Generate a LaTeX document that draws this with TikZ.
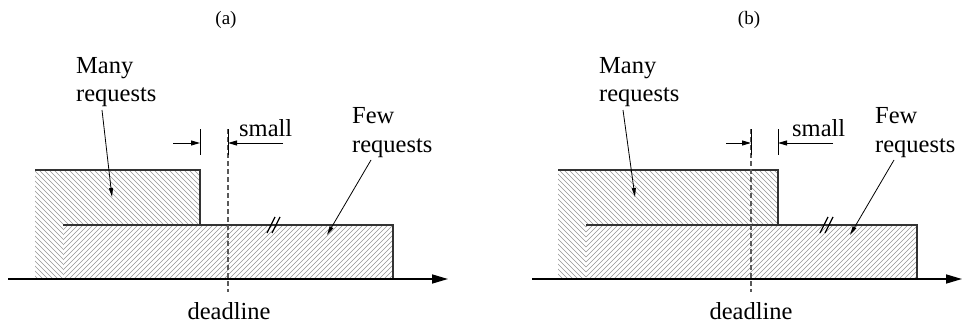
\documentclass[tikz,border=0pt]{standalone}
\usepackage{fontspec}
\setmainfont{Liberation Serif}
\usetikzlibrary{arrows.meta}
\begin{document}
\begin{tikzpicture}[x=1pt,y=-1pt,
  lbl/.style={inner sep=0pt,font=\fontsize{24.5}{29}\selectfont},
  panellabel/.style={inner sep=0pt,font=\fontsize{19}{22}\selectfont},
  outline/.style={line width=1.1pt,draw=black!80},
  hatch/.style={line width=0.55pt,draw=black!42},
  axis/.style={line width=1.6pt,-{Triangle[length=16pt,width=9pt]}},
  ptr/.style={line width=0.8pt,-{Triangle[length=9pt,width=4pt]}},
  dim/.style={line width=0.9pt,-{Triangle[length=9pt,width=5pt]}},
  tickmark/.style={line width=0.9pt},
  deadline/.style={line width=1.2pt,draw=black!65,dash pattern=on 5pt off 3pt},
  brk/.style={line width=1.3pt}
]
\useasboundingbox (0,0) rectangle (962,329);

% ---------- panel (a) ----------
% many requests: hatched block
\begin{scope}
  \clip (35,170) rectangle (200,279);
  \foreach \k in {-85,-80,...,200} \draw[hatch] (\k,166) -- ++(118,118);
\end{scope}
% few requests: hatched block
\fill[white] (63,225) rectangle (393,279);
\begin{scope}
  \clip (63,225) rectangle (393,279);
  \foreach \k in {0,5,...,400} \draw[hatch] (\k,283) -- ++(62,-62);
\end{scope}
\draw[outline] (35,170) -- (200,170) -- (200,225);
\draw[outline] (63,225) -- (393,225) -- (393,279);
\draw[axis] (8,279) -- (448,279);
\draw[deadline] (228,129) -- (228,292);
\draw[tickmark] (200,129) -- (200,155);
\draw[tickmark] (228,129) -- (228,155);
\draw[dim] (173,143) -- (200,143);
\draw[dim] (283,143) -- (228,143);
\draw[brk] (267,233) -- (275,217);
\draw[brk] (272,233) -- (280,217);

\node[lbl,anchor=base west] (manyA1) at (76,74) {Many};
\node[lbl,anchor=base west] (manyA2) at (76,102) {requests};
\node[lbl,anchor=base west] (fewA1) at (352,123) {Few};
\node[lbl,anchor=base west] (fewA2) at (352,152) {requests};
\node[lbl,anchor=base west] (smallA) at (239,136) {small};
\node[lbl,anchor=base] (deadA) at (229,319) {deadline};
\node[panellabel,anchor=base] (capA) at (226,25) {(a)};

\coordinate (manyAfrom) at (102,110);
\coordinate (manyAto) at (112,197);
\coordinate (fewAfrom) at (371,160);
\coordinate (fewAto) at (327,235);
\draw[ptr] (manyAfrom) -- (manyAto);
\draw[ptr] (fewAfrom) -- (fewAto);

% ---------- panel (b) ----------
\begin{scope}
  \clip (558,170) rectangle (778,279);
  \foreach \k in {440,445,...,780} \draw[hatch] (\k,166) -- ++(118,118);
\end{scope}
\fill[white] (586,225) rectangle (917,279);
\begin{scope}
  \clip (586,225) rectangle (917,279);
  \foreach \k in {520,525,...,925} \draw[hatch] (\k,283) -- ++(62,-62);
\end{scope}
\draw[outline] (558,170) -- (778,170) -- (778,225);
\draw[outline] (586,225) -- (917,225) -- (917,279);
\draw[axis] (532,279) -- (962,279);
\draw[deadline] (751,129) -- (751,292);
\draw[tickmark] (751,129) -- (751,155);
\draw[tickmark] (778,129) -- (778,155);
\draw[dim] (726,143) -- (751,143);
\draw[dim] (833,143) -- (778,143);
\draw[brk] (820,233) -- (828,217);
\draw[brk] (825,233) -- (833,217);

\node[lbl,anchor=base west] (manyB1) at (599,74) {Many};
\node[lbl,anchor=base west] (manyB2) at (599,102) {requests};
\node[lbl,anchor=base west] (fewB1) at (875,123) {Few};
\node[lbl,anchor=base west] (fewB2) at (875,152) {requests};
\node[lbl,anchor=base west] (smallB) at (792,136) {small};
\node[lbl,anchor=base] (deadB) at (751,319) {deadline};
\node[panellabel,anchor=base] (capB) at (749,25) {(b)};

\coordinate (manyBfrom) at (623,110);
\coordinate (manyBto) at (635,197);
\coordinate (fewBfrom) at (894,160);
\coordinate (fewBto) at (850,235);
\draw[ptr] (manyBfrom) -- (manyBto);
\draw[ptr] (fewBfrom) -- (fewBto);
\end{tikzpicture}
\end{document}
